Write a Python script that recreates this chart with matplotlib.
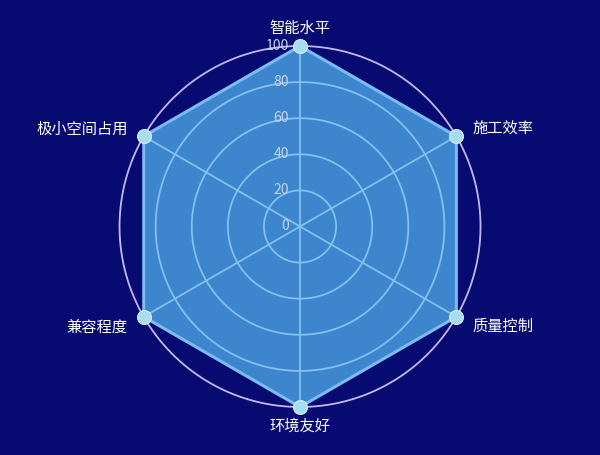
import numpy as np
import matplotlib
matplotlib.use("Agg")
import matplotlib.pyplot as plt
from matplotlib.transforms import offset_copy

plt.rcParams['font.family'] = ['Noto Sans CJK SC', 'DejaVu Sans']

categories = ['智能水平', '施工效率', '质量控制', '环境友好', '兼容程度', '极小空间占用']
values = [100, 100, 100, 100, 100, 100]
r_ticks = [0, 20, 40, 60, 80, 100]
r_max = 100

BG = '#070a70'
FILL = '#3d85cc'
EDGE = '#7cbcf4'
GRID_OUT = '#c4b8f4'
GRID_IN = '#84c0f0'
MARK = '#a8dcf0'

fig = plt.figure(figsize=(6, 4.55), dpi=100, facecolor=BG)
ax = fig.add_axes([0.1992, 0.1055, 0.6017, 0.7934], projection='polar')
ax.set_facecolor('none')
ax.set_theta_zero_location('N')
ax.set_theta_direction(-1)
ax.set_ylim(0, r_max)
ax.grid(False)
ax.spines['polar'].set_visible(False)
ax.set_xticks([])
ax.set_yticks([])

n = len(categories)
theta = np.arange(n) * 2 * np.pi / n
th_closed = np.concatenate([theta, theta[:1]])
v_closed = np.concatenate([values, values[:1]])

# fill
ax.fill(th_closed, v_closed, color=FILL, zorder=1, linewidth=0)

# grid circles
tt = np.linspace(0, 2 * np.pi, 400)
for r in r_ticks[1:]:
    col = GRID_OUT if r == r_max else GRID_IN
    ax.plot(tt, np.full_like(tt, r), color=col, lw=1.3, zorder=2, clip_on=False)
# spokes
for t in theta:
    ax.plot([t, t], [0, r_max], color=GRID_IN, lw=1.3, zorder=2)

# edge and markers
ax.plot(th_closed, v_closed, color=EDGE, lw=2.2, zorder=3, clip_on=False)
ax.plot(theta, values, 'o', color=MARK, markersize=10, markeredgecolor='#d4f2ff',
        markeredgewidth=0.8, zorder=4, clip_on=False)

# radial tick labels
tr = offset_copy(ax.transData, fig=fig, x=-11, y=0, units='dots')
for r in r_ticks:
    ax.text(0, r, str(r), transform=tr, ha='right', va='center',
            color='#c4d4ee', fontsize=10, zorder=5)

# category labels
offsets = [(0, 18, 'center'), (16, 7, 'left'), (16, -10, 'left'),
           (0, -19, 'center'), (-16, -10, 'right'), (-16, 7, 'right')]
for t, v, lab, (dx, dy, ha) in zip(theta, values, categories, offsets):
    trl = offset_copy(ax.transData, fig=fig, x=dx, y=dy, units='dots')
    ax.text(t, r_max, lab, transform=trl, ha=ha, va='center',
            color='white', fontsize=11, zorder=5)

fig.savefig('out.png', dpi=100, facecolor=BG)
